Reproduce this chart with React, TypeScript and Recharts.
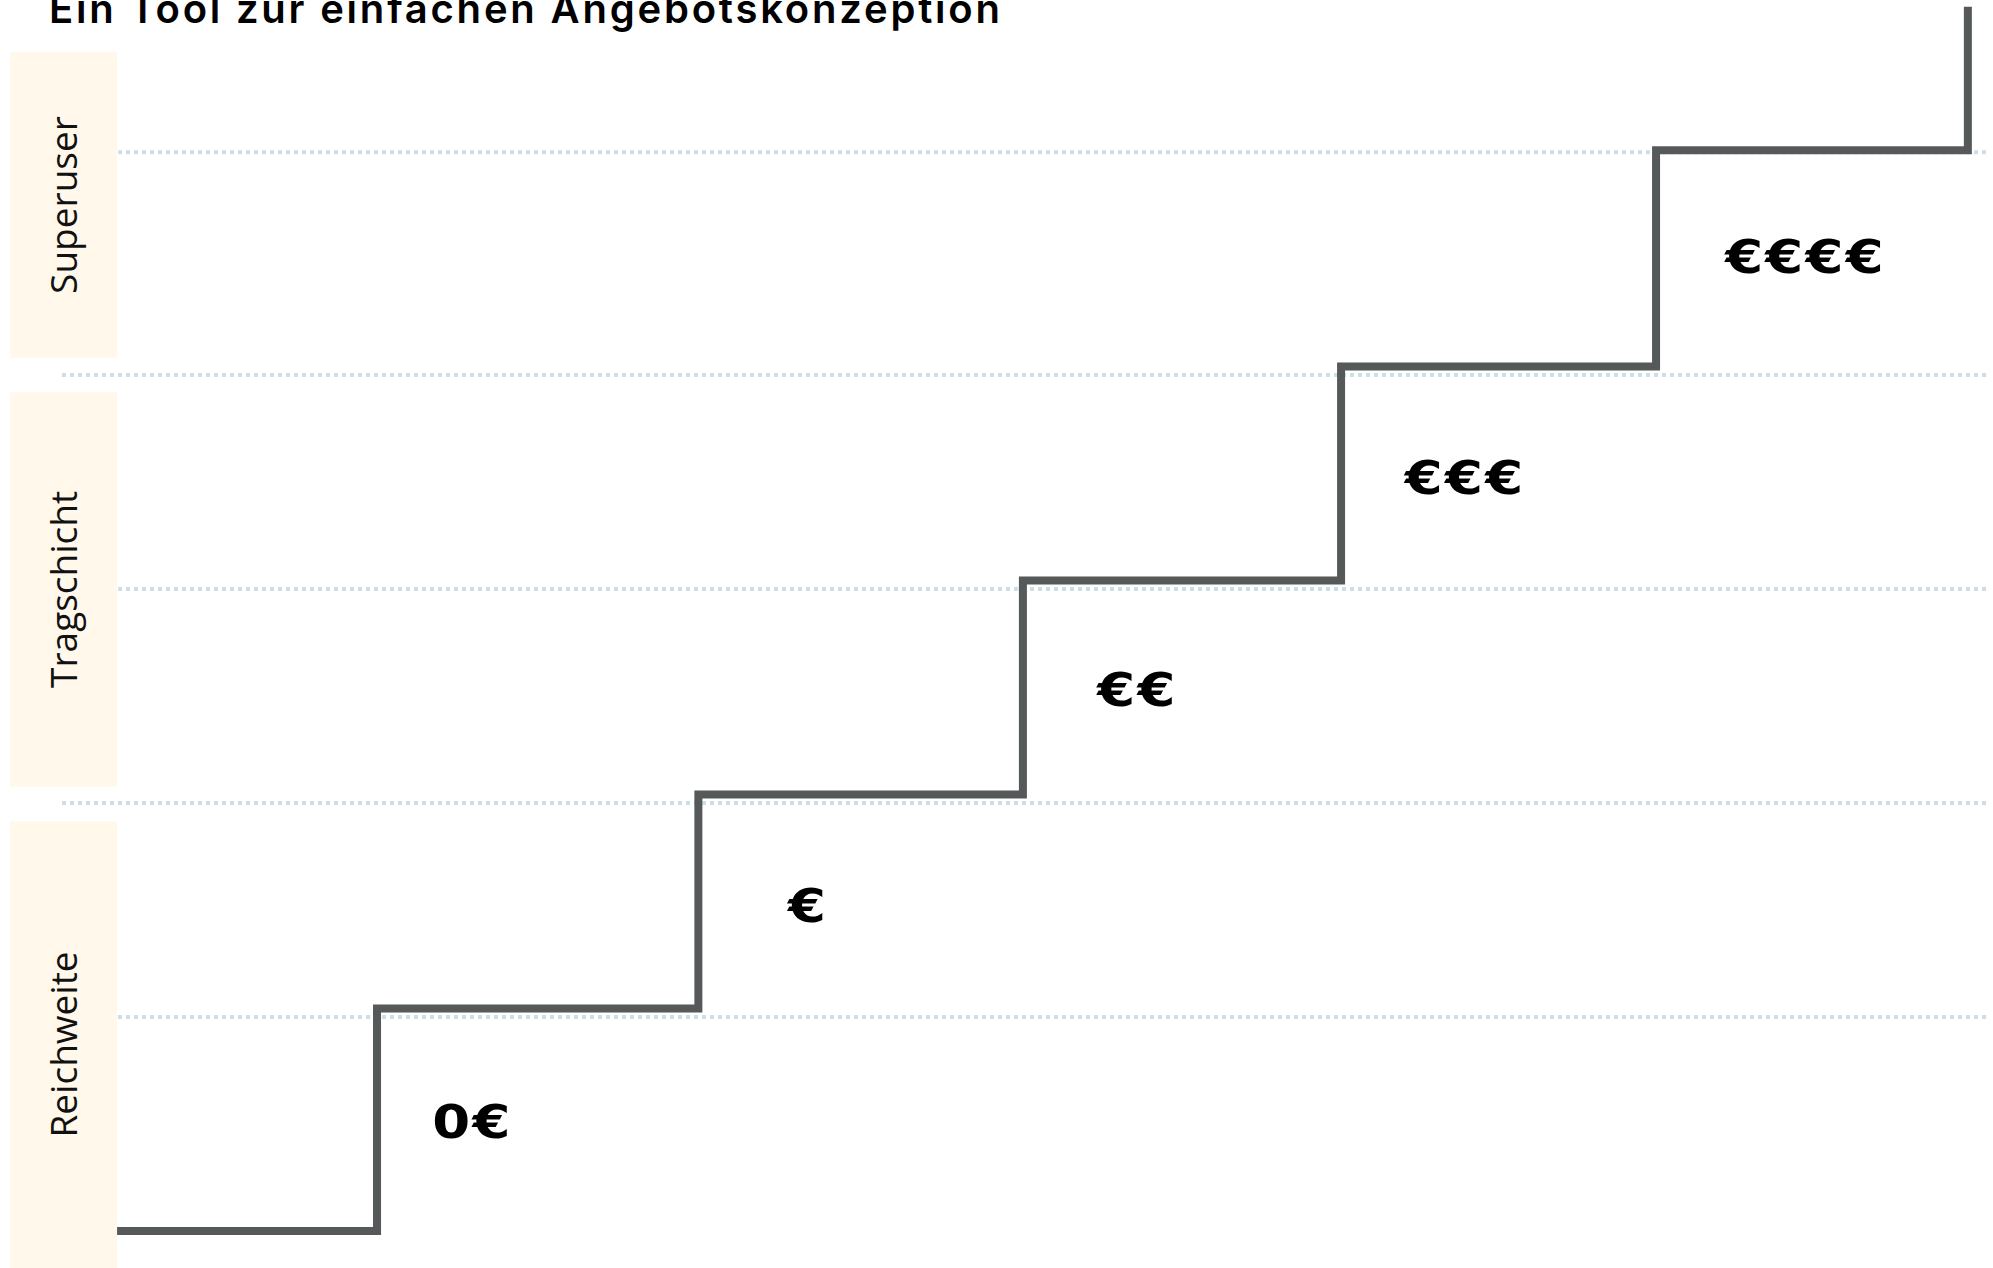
import React from 'react';
import { ComposedChart, Line, Scatter, XAxis, YAxis, ReferenceArea, ReferenceLine } from 'recharts';

// Step line (stage index on x, level on y)
const stepX = [-0.817, 0, 1.01, 2.03, 3.03, 4.02, 5.0];
const stepY = [0, 1.04, 2.04, 3.04, 4.04, 5.05, 5.72];

// Price labels on each step
const priceLabels = ['0€', '€', '€€', '€€€', '€€€€'];
const priceX = [0.3, 1.355, 2.39, 3.42, 4.49];
const priceY = [0.51, 1.52, 2.53, 3.52, 4.55];

// Audience bands on the left
const segments = ['Superuser', 'Tragschicht', 'Reichweite'];
const segmentTop = [5.509, 3.921, 1.916];
const segmentBottom = [4.079, 2.075, -0.173];
const bandLeft = -1.153;
const bandRight = -0.817;

// Dotted guide lines
const gridY = [5.04, 4, 3, 2, 1];
const gridStart = [-0.814, -0.99, -0.814, -0.99, -0.814];
const gridEnd = 5.06;

const title = 'Ein Tool zur einfachen Angebotskonzeption';

const stepData = stepX.map((x, i) => ({ x, y: stepY[i] }));
const priceData = priceX.map((x, i) => ({ x, y: priceY[i], label: priceLabels[i] }));

const BandLabel = (props: any) => {
  const { viewBox, value } = props;
  const cx = viewBox.x + viewBox.width / 2 - 1;
  const cy = viewBox.y + viewBox.height / 2;
  return (
    <text
      x={cx}
      y={cy}
      transform={`rotate(-90 ${cx} ${cy})`}
      textAnchor="middle"
      dominantBaseline="central"
      fontFamily="'Open Sans', sans-serif"
      fontSize={37}
      fill="#111"
    >
      {value}
    </text>
  );
};

const PriceShape = (props: any) => {
  const { cx, cy, payload } = props;
  return (
    <g transform={`translate(${cx} ${cy}) scale(1.16 1)`}>
      <text
        x={0}
        y={0}
        textAnchor="middle"
        dominantBaseline="central"
        fontFamily="'DejaVu Sans', sans-serif"
        fontWeight={700}
        fontSize={47}
        letterSpacing={2}
        fill="#000"
      >
        {payload.label}
      </text>
    </g>
  );
};

export default function App() {
  return (
    <div style={{ position: 'absolute', left: 0, top: 0, width: 1993, height: 1268, background: '#fff' }}>
      <ComposedChart width={1993} height={1268} margin={{ top: 0, right: 0, bottom: 0, left: 0 }}>
        <XAxis dataKey="x" type="number" domain={[-1.185, 5.079]} allowDataOverflow hide />
        <YAxis type="number" domain={[-0.173, 5.752]} allowDataOverflow hide />
        {segments.map((s, i) => (
          <ReferenceArea
            key={s}
            x1={bandLeft}
            x2={bandRight}
            y1={segmentBottom[i]}
            y2={segmentTop[i]}
            fill="#FFF8EB"
            fillOpacity={1}
            stroke="none"
            label={<BandLabel value={s} />}
          />
        ))}
        {gridY.map((y, i) => (
          <ReferenceLine
            key={y}
            segment={[{ x: gridStart[i], y }, { x: gridEnd, y }]}
            stroke="#CCDFE7"
            strokeWidth={4}
            strokeDasharray="4 4"
          />
        ))}
        <Line
          data={stepData}
          dataKey="y"
          type="stepAfter"
          stroke="#555959"
          strokeWidth={8}
          strokeLinejoin="miter"
          dot={false}
          activeDot={false}
          isAnimationActive={false}
        />
        <Scatter data={priceData} dataKey="y" shape={<PriceShape />} isAnimationActive={false} />
      </ComposedChart>
      <svg width={1993} height={60} style={{ position: 'absolute', left: 0, top: 0 }}>
        <text
          x={49}
          y={23}
          fontFamily="Inter, sans-serif"
          fontWeight={600}
          fontSize={40}
          textLength={951}
          lengthAdjust="spacing"
          fill="#000"
        >
          {title}
        </text>
      </svg>
    </div>
  );
}
